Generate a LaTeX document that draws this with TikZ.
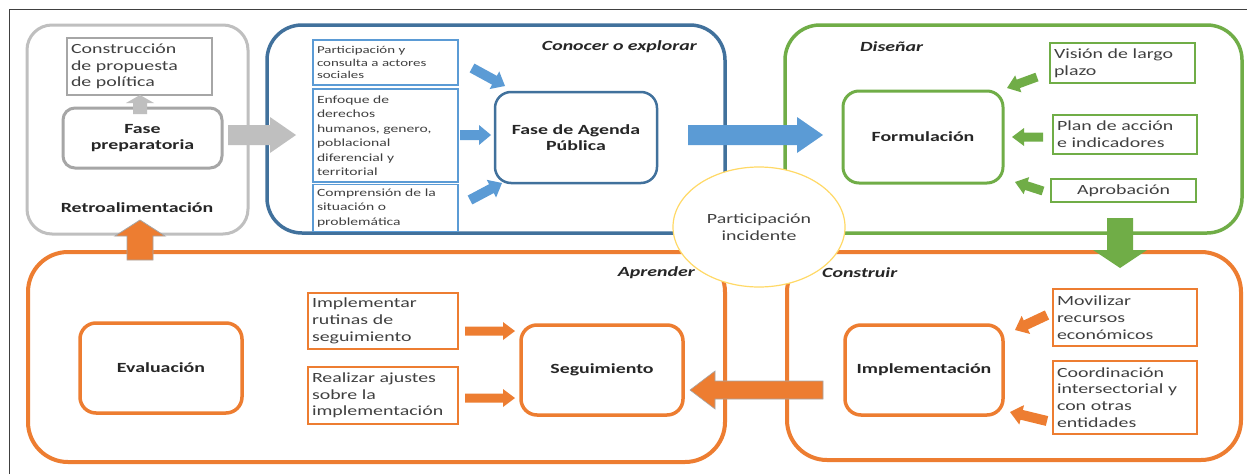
\documentclass[tikz,border=0pt]{standalone}
\usepackage{fontspec}
\setmainfont{Carlito}[FakeStretch=1.42]
\usetikzlibrary{calc,shapes.geometric}
\definecolor{frameC}{HTML}{404040}
\definecolor{grayL}{HTML}{BFBFBF}
\definecolor{grayM}{HTML}{A6A6A6}
\definecolor{blueD}{HTML}{41719C}
\definecolor{blueL}{HTML}{5B9BD5}
\definecolor{greenC}{HTML}{70AD47}
\definecolor{orangeC}{HTML}{ED7D31}
\definecolor{yellowC}{HTML}{FFD966}
\definecolor{txtD}{HTML}{262626}
\definecolor{txtM}{HTML}{404040}
\newcommand\blockarr[6]{%
  \coordinate (hb) at ($(#3)!#6!(#2)$);
  \fill[#1] ($(#2)!#4!90:(#3)$) -- ($(hb)!#4!90:(#3)$) -- ($(hb)!#5!90:(#3)$) -- (#3)
    -- ($(hb)!#5!-90:(#3)$) -- ($(hb)!#4!-90:(#3)$) -- ($(#2)!#4!-90:(#3)$) -- cycle;}
\tikzset{
  f14/.style={font=\fontsize{14}{16.7}\selectfont},
  f11/.style={font=\fontsize{11}{14.5}\selectfont},
  f10/.style={font=\fontsize{10.5}{12.5}\selectfont},
  bigbox/.style={draw=#1, line width=3.5pt, rounded corners=35pt, rectangle},
  phase/.style={draw=#1, line width=3pt, rounded corners=16pt, rectangle,
    font=\fontsize{14}{16.7}\selectfont\bfseries, text=txtD, align=center},
  subbox/.style={draw=#1, line width=1.4pt, rectangle, inner sep=4pt, align=left, text=txtM},
  title/.style={font=\fontsize{14}{16.7}\selectfont\bfseries\itshape, text=txtD, inner sep=0pt},
}
\begin{document}
\begin{tikzpicture}[x=1pt,y=-1pt]
\useasboundingbox (0,0) rectangle (1247,474);
\fill[white] (0,0) rectangle (1247,474);
% frame
\coordinate (fA) at (9.5,474);
\coordinate (fB) at (9.5,9.5);
\coordinate (fC) at (1247,9.5);
\draw[frameC, line width=1.5pt] (fA) -- (fB) -- (fC);

% big boxes
\node[bigbox=grayL, line width=3pt, rounded corners=25pt, minimum width=221, minimum height=209] (gbox) at (137.5,129.5) {};
\node[bigbox=blueD, minimum width=458, minimum height=208] (bbox) at (496,129) {};
\node[bigbox=greenC, minimum width=457, minimum height=208] (grbox) at (1013.5,129) {};
\node[bigbox=orangeC, line width=4pt, rounded corners=40pt, minimum width=697, minimum height=210] (obox1) at (376.5,357) {};
\node[bigbox=orangeC, line width=4pt, rounded corners=40pt, minimum width=454, minimum height=208] (obox2) at (1014,356) {};

% gray group
\node[subbox=grayM, line width=1.2pt, f14, text width=137, minimum width=145, minimum height=57] (constr) at (139.5,66.5) {Construcción\\de propuesta\\de política};
\node[phase=grayM, minimum width=159, minimum height=60, rounded corners=12pt] (fasep) at (142.5,138) {Fase\\preparatoria};
\node[font=\fontsize{14}{16.7}\selectfont\bfseries, text=txtD] (retro) at (137,208) {Retroalimentación};

% blue group
\node[title, anchor=east] (conocer) at (697,47) {Conocer o explorar};
\node[subbox=blueL, f10, text width=137, minimum width=145, minimum height=45] (part) at (385.5,62.5) {Participación y\\consulta a actores\\sociales};
\node[subbox=blueL, f11, text width=137, minimum width=145, minimum height=93] (enf) at (385.5,135.5) {Enfoque de\\derechos\\humanos, genero,\\poblacional\\diferencial y\\territorial};
\node[subbox=blueL, f11, text width=137, minimum width=145, minimum height=46] (comp) at (385.5,208) {Comprensión de la\\situación o\\problemática};
\node[phase=blueD, line width=2.5pt, minimum width=162, minimum height=91] (agenda) at (576,137.5) {Fase de Agenda\\Pública};

% green group
\node[title, anchor=west] (disenar) at (860,47) {Diseñar};
\node[subbox=greenC, f14, text width=137, minimum width=145, minimum height=40] (vis) at (1122.5,63) {Visión de largo\\plazo};
\node[subbox=greenC, f14, text width=136, minimum width=144, minimum height=39] (plan) at (1125,134.5) {Plan de acción\\e indicadores};
\node[subbox=greenC, f14, align=center, text width=137, minimum width=145, minimum height=23, inner sep=2pt] (apro) at (1123.5,190.5) {Aprobación};
\node[phase=greenC, minimum width=160, minimum height=92] (form) at (923,137) {Formulación};

% orange groups
\node[title, anchor=east] (aprender) at (695,273) {Aprender};
\node[title, anchor=west] (construir) at (822,273) {Construir};
\node[phase=orangeC, line width=3.5pt, minimum width=162, minimum height=90] (eval) at (161,368) {Evaluación};
\node[subbox=orangeC, f14, text width=142, minimum width=150, minimum height=56] (impl1) at (383,321) {Implementar\\rutinas de\\seguimiento};
\node[subbox=orangeC, f14, text width=142, minimum width=150, minimum height=57] (real) at (383,395.5) {Realizar ajustes\\sobre la\\implementación};
\node[phase=orangeC, line width=3.5pt, minimum width=162, minimum height=90] (seg) at (602,370) {Seguimiento};
\node[phase=orangeC, line width=3.5pt, minimum width=158, minimum height=90] (implem) at (924,370) {Implementación};
\node[subbox=orangeC, f14, text width=136, minimum width=144, minimum height=57] (movil) at (1125,317.5) {Movilizar\\recursos\\económicos};
\node[subbox=orangeC, f14, text width=136, minimum width=144, minimum height=73] (coord) at (1125,397.5) {Coordinación\\intersectorial y\\con otras\\entidades};

% ellipse
\node[ellipse, draw=yellowC, fill=white, line width=1.2pt, minimum width=172, minimum height=120, f14, text=txtM, align=center] (partinc) at (759,227) {Participación\\incidente};

% arrow coordinates
\coordinate (gu1) at (140,114); \coordinate (gu2) at (140,95);
\coordinate (gr1) at (228,135); \coordinate (gr2) at (296,135);
\coordinate (ba1) at (472,68); \coordinate (ba2) at (505,86);
\coordinate (bb1) at (460,135); \coordinate (bb2) at (491,135);
\coordinate (bc1) at (470,200); \coordinate (bc2) at (502,183);
\coordinate (bg1) at (688,135); \coordinate (bg2) at (823,135);
\coordinate (ga1) at (1037,77); \coordinate (ga2) at (1007,88);
\coordinate (gb1) at (1043,137); \coordinate (gb2) at (1012,137);
\coordinate (gc1) at (1043,191); \coordinate (gc2) at (1015,182);
\coordinate (gd1) at (1120,218); \coordinate (gd2) at (1120,268);
\coordinate (ou1) at (140,260); \coordinate (ou2) at (140,220);
\coordinate (oa1) at (465,331); \coordinate (oa2) at (515,331);
\coordinate (ob1) at (465,398); \coordinate (ob2) at (515,398);
\coordinate (ol1) at (823,390); \coordinate (ol2) at (690,390);
\coordinate (oc1) at (1047,315); \coordinate (oc2) at (1015,330);
\coordinate (od1) at (1047,421); \coordinate (od2) at (1010,412);

% arrows
\blockarr{grayL}{gu1}{gu2}{7pt}{14pt}{8pt}
\blockarr{grayL}{gr1}{gr2}{10pt}{18pt}{26pt}
\blockarr{blueL}{ba1}{ba2}{5pt}{10pt}{12pt}
\blockarr{blueL}{bb1}{bb2}{5pt}{10pt}{12pt}
\blockarr{blueL}{bc1}{bc2}{5pt}{10pt}{12pt}
\blockarr{blueL}{bg1}{bg2}{10pt}{18pt}{26pt}
\blockarr{greenC}{ga1}{ga2}{4.5pt}{9pt}{12pt}
\blockarr{greenC}{gb1}{gb2}{4.5pt}{9pt}{12pt}
\blockarr{greenC}{gc1}{gc2}{4.5pt}{9pt}{12pt}
\blockarr{greenC}{gd1}{gd2}{13pt}{27pt}{18pt}
\blockarr{orangeC, draw=grayM, line width=0.8pt}{ou1}{ou2}{13pt}{25pt}{16pt}
\blockarr{orangeC}{oa1}{oa2}{4.5pt}{9pt}{12pt}
\blockarr{orangeC}{ob1}{ob2}{4.5pt}{9pt}{12pt}
\blockarr{orangeC, draw=grayM, line width=0.6pt}{ol1}{ol2}{9pt}{19pt}{25pt}
\blockarr{orangeC}{oc1}{oc2}{5pt}{10pt}{12pt}
\blockarr{orangeC}{od1}{od2}{5pt}{10pt}{12pt}
\end{tikzpicture}
\end{document}
